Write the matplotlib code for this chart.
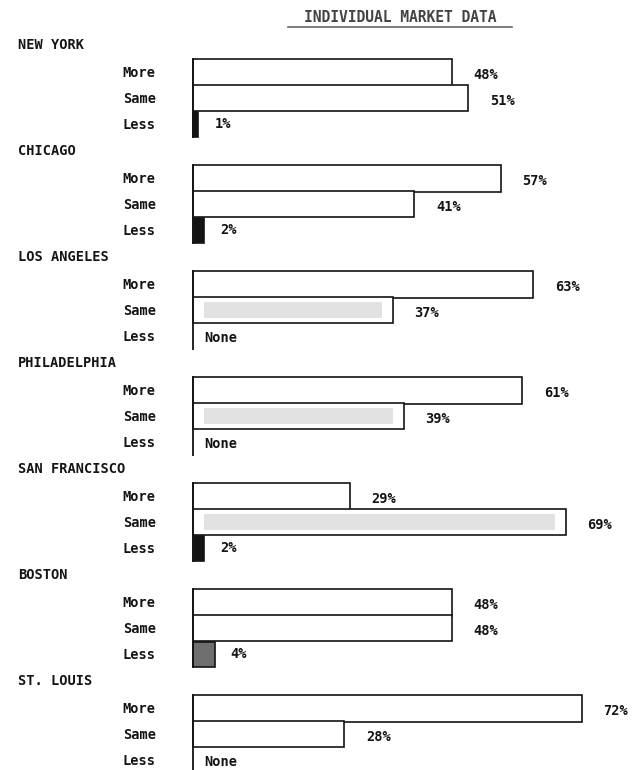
import matplotlib.pyplot as plt

# data
cities = ['NEW YORK', 'CHICAGO', 'LOS ANGELES', 'PHILADELPHIA',
          'SAN FRANCISCO', 'BOSTON', 'ST. LOUIS']
more = [48, 57, 63, 61, 29, 48, 72]
same = [51, 41, 37, 39, 69, 48, 28]
less = [1, 2, 0, 0, 2, 4, 0]
shaded_same = [False, False, True, True, True, False, False]
answers = ['More', 'Same', 'Less']

ink = '#141414'
font = dict(family='DejaVu Sans Mono', fontweight='bold', color=ink)
fs = 9.8

fig = plt.figure(figsize=(6.43, 7.70), dpi=100)
ax = fig.add_axes([0, 0, 1, 1])
# 0% sits at x=193px, 5.4px per percent
ax.set_xlim(-193 / 5.4, (643 - 193) / 5.4)
ax.set_ylim(770, 0)
ax.axis('off')

ax.text(400 / 5.4 - 193 / 5.4, 17, 'INDIVIDUAL MARKET DATA', ha='center', va='center',
        fontsize=10.5, family='DejaVu Sans Mono', fontweight='bold', color='#444444')
fig.add_artist(plt.Line2D([288 / 643, 512 / 643], [1 - 27 / 770, 1 - 27 / 770],
                          color='#666666', lw=1.2))

for i, city in enumerate(cities):
    top = 58 + 106 * i
    y_more, y_same, y_less = top + 14, top + 40, top + 66

    ax.text(-32.4, top - 13, city, ha='left', va='center', fontsize=fs, **font)
    for lab, y in zip(answers, [y_more, y_same, y_less]):
        ax.text(-13, y + 1, lab, ha='left', va='center', fontsize=fs, **font)

    ax.vlines(0, top, top + 80, color=ink, lw=1.3)

    ax.barh(y_more, more[i], height=27, left=0, facecolor='white',
            edgecolor=ink, linewidth=1.2)
    ax.barh(y_same, same[i], height=26, left=0, facecolor='white',
            edgecolor=ink, linewidth=1.2)
    if shaded_same[i]:
        ax.barh(y_same, same[i] - 4, height=16, left=2, facecolor='#e2e2e2',
                edgecolor='none')
    ax.text(more[i] + 4, y_more + 3, f'{more[i]}%', ha='left', va='center',
            fontsize=fs, **font)
    ax.text(same[i] + 4, y_same + 3, f'{same[i]}%', ha='left', va='center',
            fontsize=fs, **font)

    if less[i] > 0:
        face = '#6e6e6e' if less[i] >= 4 else ink
        ax.barh(y_less, less[i], height=25, left=0, facecolor=face,
                edgecolor=ink, linewidth=1.2)
        ax.text(less[i] + 3, y_less, f'{less[i]}%', ha='left', va='center',
                fontsize=fs, **font)
    else:
        ax.text(2, y_less + 2, 'None', ha='left', va='center', fontsize=fs, **font)

fig.savefig('out.png', dpi=100, facecolor='white')
